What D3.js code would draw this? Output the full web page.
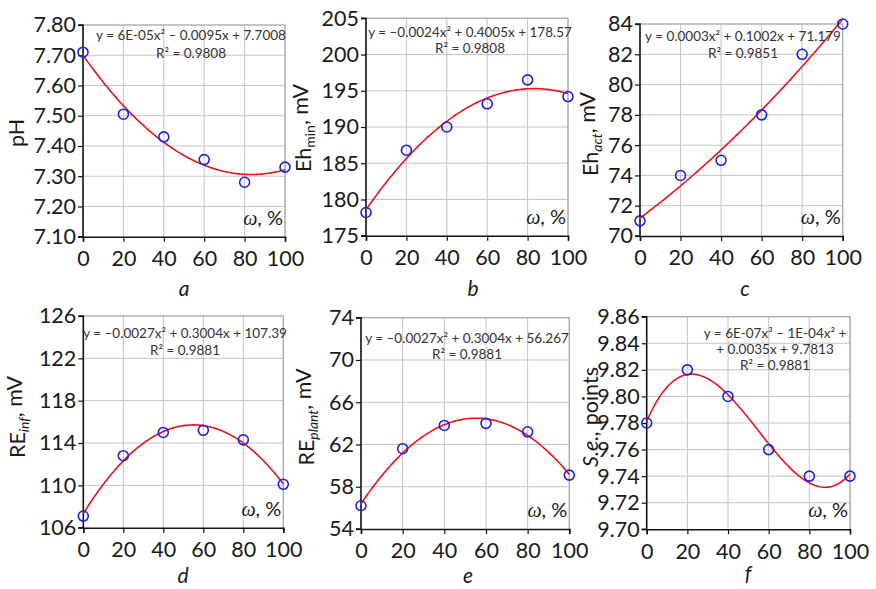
<!DOCTYPE html>
<html><head><meta charset="utf-8">
<script src="https://cdn.jsdelivr.net/npm/d3@7"></script>
<style>
body{margin:0;background:#fff}
svg{display:block}
text{font-family:Lato, "Open Sans", sans-serif;}
</style>
</head><body>
<svg id="chart" width="876" height="589"></svg>
<script>
// ---- data ----
const omega = [0, 20, 40, 60, 80, 100];
const xTickLabels = [0, 20, 40, 60, 80, 100];

const phValues = [7.71, 7.505, 7.43, 7.355, 7.28, 7.33];
const ehMinValues = [178.2, 186.8, 190.0, 193.2, 196.5, 194.2];
const ehActValues = [71, 74, 75, 78, 82, 84];
const reInfValues = [107.1, 112.8, 115.0, 115.2, 114.3, 110.1];
const rePlantValues = [56.2, 61.6, 63.8, 64.0, 63.2, 59.1];
const seValues = [9.78, 9.82, 9.80, 9.76, 9.74, 9.74];

const phTicks = [7.10, 7.20, 7.30, 7.40, 7.50, 7.60, 7.70, 7.80];
const ehMinTicks = [175, 180, 185, 190, 195, 200, 205];
const ehActTicks = [70, 72, 74, 76, 78, 80, 82, 84];
const reInfTicks = [106, 110, 114, 118, 122, 126];
const rePlantTicks = [54, 58, 62, 66, 70, 74];
const seTicks = [9.70, 9.72, 9.74, 9.76, 9.78, 9.80, 9.82, 9.84, 9.86];

const eqA = ["y = 6E-05x\u00B2 \u2013 0.0095x + 7.7008", "R\u00B2 = 0.9808"];
const eqB = ["y = \u20130.0024x\u00B2 + 0.4005x + 178.57", "R\u00B2 = 0.9808"];
const eqC = ["y = 0.0003x\u00B2  + 0.1002x + 71.179", "R\u00B2 = 0.9851"];
const eqD = ["y = \u20130.0027x\u00B2 + 0.3004x + 107.39", "R\u00B2  = 0.9881"];
const eqE = ["y = \u20130.0027x\u00B2 + 0.3004x + 56.267", "R\u00B2  = 0.9881"];
const eqF = ["y = 6E-07x\u00B3 \u2013 1E-04x\u00B2 +", "+ 0.0035x + 9.7813", "R\u00B2 = 0.9881"];

// ---- layout ----
const panels = [
  {letter:"a", values:phValues, ticks:phTicks, fmt:".2f", degree:2, eq:eqA,
   box:[83,285,25,236.7], ylab:{main:"pH"}, labX:16, labY:133, letX:184, letY:296, eqX:191, eqY:[40,58]},
  {letter:"b", values:ehMinValues, ticks:ehMinTicks, fmt:"d", degree:2, eq:eqB,
   box:[366,568,18.3,235.7], ylab:{main:"Eh", sub:"min", subItalic:false, tail:", mV"}, labX:303, labY:128, letX:473, letY:296, eqX:470, eqY:[37,53]},
  {letter:"c", values:ehActValues, ticks:ehActTicks, fmt:"d", degree:2, eq:eqC,
   box:[640,842.7,24,236], ylab:{main:"Eh", sub:"act", subItalic:true, tail:", mV"}, labX:590, labY:134, letX:745, letY:296, eqX:743, eqY:[41,58]},
  {letter:"d", values:reInfValues, ticks:reInfTicks, fmt:"d", degree:2, eq:eqD,
   box:[83.3,283.3,316,527.7], ylab:{main:"RE", sub:"inf", subItalic:true, tail:", mV"}, labX:17, labY:417, letX:183, letY:583, eqX:185, eqY:[338,355]},
  {letter:"e", values:rePlantValues, ticks:rePlantTicks, fmt:"d", degree:2, eq:eqE,
   box:[361,569.3,317.7,529], ylab:{main:"RE", sub:"plant", subItalic:true, tail:", mV"}, labX:306, labY:417, letX:468, letY:583, eqX:467, eqY:[343,359]},
  {letter:"f", values:seValues, ticks:seTicks, fmt:".2f", degree:3, eq:eqF,
   box:[646.7,850,316.7,529.3], ylab:{italicPart:"S.e.,", main:" points"}, labX:590, labY:417, letX:748, letY:581, eqX:775, eqY:[338,354,370]}
];

// least-squares polynomial fit (from the data points)
function polyfit(xs, ys, deg) {
  const n = deg + 1;
  const s = xs.map(x => x / 100);
  const A = [], b = [];
  for (let i = 0; i < n; i++) {
    A.push([]);
    for (let j = 0; j < n; j++) A[i].push(d3.sum(s, x => Math.pow(x, i + j)));
    b.push(d3.sum(s, (x, k) => Math.pow(x, i) * ys[k]));
  }
  for (let c = 0; c < n; c++) {
    let p = c;
    for (let r = c + 1; r < n; r++) if (Math.abs(A[r][c]) > Math.abs(A[p][c])) p = r;
    [A[c], A[p]] = [A[p], A[c]]; [b[c], b[p]] = [b[p], b[c]];
    for (let r = 0; r < n; r++) {
      if (r === c) continue;
      const f = A[r][c] / A[c][c];
      for (let k = c; k < n; k++) A[r][k] -= f * A[c][k];
      b[r] -= f * b[c];
    }
  }
  const coef = b.map((v, i) => v / A[i][i]);
  return x => coef.reduce((acc, c, i) => acc + c * Math.pow(x / 100, i), 0);
}

const svg = d3.select("#chart");
svg.append("rect").attr("width", 876).attr("height", 589).attr("fill", "#fff");

panels.forEach(p => {
  const [xl, xr, yt, yb] = p.box;
  const x = d3.scaleLinear().domain([0, 100]).range([xl, xr]);
  const y = d3.scaleLinear().domain(d3.extent(p.ticks)).range([yb, yt]);
  const g = svg.append("g");

  // grid
  g.selectAll(".gx").data(xTickLabels.slice(1)).join("line")
    .attr("x1", d => x(d)).attr("x2", d => x(d)).attr("y1", yt).attr("y2", yb)
    .attr("stroke", "#c4c4c4").attr("stroke-width", 1);
  g.selectAll(".gy").data(p.ticks.slice(1)).join("line")
    .attr("x1", xl).attr("x2", xr).attr("y1", d => y(d)).attr("y2", d => y(d))
    .attr("stroke", "#c4c4c4").attr("stroke-width", 1);
  // top / right border
  g.append("path").attr("d", `M${xl},${yt}H${xr}V${yb}`).attr("fill", "none")
    .attr("stroke", "#a8a8a8").attr("stroke-width", 1.2);

  // axes
  const ya = g.append("g").attr("transform", `translate(${xl},0)`)
    .call(d3.axisLeft(y).tickValues(p.ticks).tickFormat(d3.format(p.fmt)).tickSize(5).tickPadding(2));
  const xa = g.append("g").attr("transform", `translate(0,${yb})`)
    .call(d3.axisBottom(x).tickValues(xTickLabels).tickFormat(d3.format("d")).tickSize(5).tickPadding(9));
  [ya, xa].forEach(a => {
    a.select(".domain").attr("stroke", "#111").attr("stroke-width", 1.6);
    a.selectAll(".tick line").attr("stroke", "#111").attr("stroke-width", 1.2);
    a.selectAll("text").attr("font-size", 21.5).attr("fill", "#1a1a1a")
      .style("font-family", "Lato, sans-serif");
  });
  ya.select(".domain").attr("d", `M-5,${yt}H0V${yb}H-5`);

  // trend line
  const f = polyfit(omega, p.values, p.degree);
  const xs = d3.range(0, 100.5, 1);
  g.append("path").datum(xs)
    .attr("d", d3.line().x(d => x(d)).y(d => y(f(d))))
    .attr("fill", "none").attr("stroke", "#e3141c").attr("stroke-width", 1.6);

  // markers
  g.selectAll(".pt").data(omega).join("circle")
    .attr("cx", d => x(d)).attr("cy", (d, i) => y(p.values[i]))
    .attr("r", 5).attr("fill", "none").attr("stroke", "#1f1fe6").attr("stroke-width", 1.6);

  // equation
  p.eq.forEach((line, i) => {
    g.append("text").attr("x", p.eqX).attr("y", p.eqY[i]).attr("text-anchor", "middle")
      .attr("font-size", 13.5).attr("fill", "#333").text(line);
  });

  // omega, %
  const om = g.append("text").attr("x", xr - 2).attr("y", yb - 12).attr("text-anchor", "end")
    .attr("font-size", 20).attr("fill", "#1a1a1a");
  om.append("tspan").style("font-family", "'Liberation Serif', serif").attr("font-style", "italic").text("\u03C9");
  om.append("tspan").text(", %");

  // panel letter
  g.append("text").attr("x", p.letX).attr("y", p.letY).attr("text-anchor", "middle")
    .attr("font-size", 21).attr("font-style", "italic").attr("fill", "#1a1a1a").text(p.letter);

  // y label
  const yl = g.append("text").attr("transform", `translate(${p.labX},${p.labY}) rotate(-90)`)
    .attr("text-anchor", "middle").attr("dy", "0.35em").attr("font-size", 21.5).attr("fill", "#1a1a1a");
  if (p.ylab.italicPart) yl.append("tspan").attr("font-style", "italic").text(p.ylab.italicPart);
  yl.append("tspan").text(p.ylab.main);
  if (p.ylab.sub) {
    yl.append("tspan").attr("font-size", 14).attr("dy", "0.3em")
      .attr("font-style", p.ylab.subItalic ? "italic" : "normal").text(p.ylab.sub);
    yl.append("tspan").attr("dy", "-0.3em").text(p.ylab.tail);
  }
});
</script>
</body></html>
